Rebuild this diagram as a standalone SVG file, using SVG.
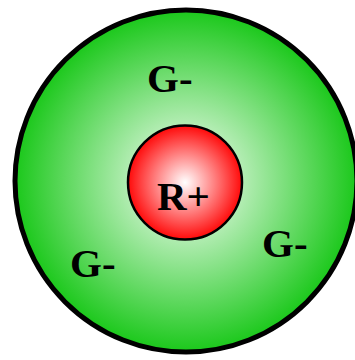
<svg xmlns="http://www.w3.org/2000/svg" width="355" height="360" viewBox="0 0 355 360">
<style>
.lbl{font-family:"Liberation Serif","Times New Roman",serif;font-weight:bold;font-size:41px;fill:#000}
</style>
<defs>
<radialGradient id="gGreen" cx="0.5" cy="0.5" r="0.5">
<stop offset="0" stop-color="#ffffff"/>
<stop offset="1" stop-color="#1bc81b"/>
</radialGradient>
<radialGradient id="gRed" cx="0.5" cy="0.5" r="0.5">
<stop offset="0" stop-color="#ffffff"/>
<stop offset="1" stop-color="#ff0a0a"/>
</radialGradient>
</defs>
<rect width="355" height="360" fill="#fff"/>
<g id="outer">
<circle cx="186" cy="181" r="171" fill="url(#gGreen)" stroke="#000" stroke-width="5"/>
</g>
<g id="inner">
<circle cx="185" cy="182.5" r="57" fill="url(#gRed)" stroke="#000" stroke-width="2.5"/>
<text class="lbl" x="157" y="210">R+</text>
</g>
<g id="g1"><text class="lbl" x="147" y="92">G-</text></g>
<g id="g2"><text class="lbl" x="70" y="277">G-</text></g>
<g id="g3"><text class="lbl" x="262" y="257">G-</text></g>
<g id="connectors"/>
</svg>
